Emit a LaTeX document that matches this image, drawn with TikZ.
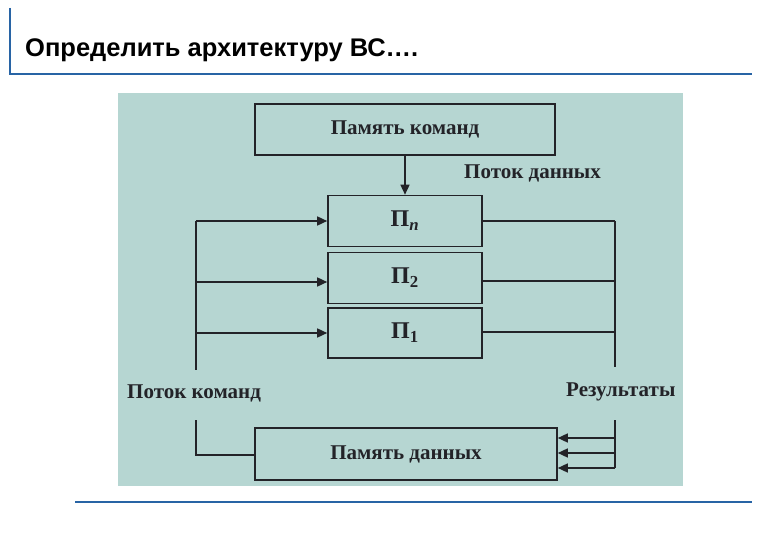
\documentclass[tikz,border=0pt]{standalone}
\usepackage{fontspec}
\setmainfont{Liberation Serif}
\newfontfamily\hdr{Liberation Sans}
\usetikzlibrary{arrows.meta}
\definecolor{bg}{RGB}{182,214,210}
\definecolor{ln}{RGB}{35,35,40}
\definecolor{blu}{RGB}{40,100,165}
\tikzset{
 box/.style={draw=ln,line width=1.6pt,inner sep=0pt},
 lbl/.style={font=\bfseries\fontsize{21}{24}\selectfont,text=ln,inner sep=0pt},
 big/.style={font=\bfseries\fontsize{24}{26}\selectfont,text=ln,inner sep=0pt},
 wire/.style={draw=ln,line width=1.5pt},
 arr/.style={wire,-{Triangle[length=10pt,width=9pt]}}
}
\begin{document}
\begin{tikzpicture}[x=1pt,y=-1pt]
\useasboundingbox (0,0) rectangle (780,540);
\fill[white] (0,0) rectangle (780,540);
\draw[blu,line width=2pt] (10,8) -- (10,74) -- (752,74);
\draw[blu,line width=1.8pt] (75,502) -- (752,502);
\node[anchor=base west,font=\hdr\bfseries\fontsize{25.5}{28}\selectfont,inner sep=0pt] (title) at (25,57) {Определить архитектуру ВС….};
\fill[bg] (118,93) rectangle (683,486);
\node[box,minimum width=300pt,minimum height=51pt,lbl] (pk) at (405,129.5) {Память команд};
\node[box,minimum width=154pt,minimum height=51pt,big] (pn) at (405,221) {П\textsubscript{\textit{n}}};
\node[box,minimum width=154pt,minimum height=51pt,big] (p2) at (405,278) {П\textsubscript{2}};
\node[box,minimum width=154pt,minimum height=50pt,big] (p1) at (405,333) {П\textsubscript{1}};
\node[box,minimum width=302pt,minimum height=52pt,lbl] (pd) at (406,454) {Память данных};
\node[lbl,anchor=base west] (ld) at (464,179) {Поток данных};
\node[lbl,anchor=base west] (lk) at (127,399) {Поток команд};
\node[lbl,anchor=base west] (lr) at (566,396) {Результаты};
\coordinate (la) at (196,221);
\coordinate (lb) at (196,370);
\coordinate (lc) at (196,420);
\coordinate (ra) at (615,221);
\coordinate (rb) at (615,367);
\coordinate (rc) at (615,420);
\coordinate (rd) at (615,468);
\draw[arr] (pk.south) -- (pn.north);
\draw[wire] (la) -- (lb);
\draw[arr] (la) -- (pn.west|-la);
\draw[arr] (196,282) -- (p2.west|-0,282);
\draw[arr] (196,333) -- (p1.west|-0,333);
\draw[wire] (lc) |- (pd.west|-0,455);
\draw[wire] (ra) -- (rb);
\draw[wire] (pn.east|-ra) -- (ra);
\draw[wire] (p2.east|-0,281) -- (615,281);
\draw[wire] (p1.east|-0,332) -- (615,332);
\draw[wire] (rc) -- (rd);
\draw[arr] (615,438) -- (pd.east|-0,438);
\draw[arr] (615,453) -- (pd.east|-0,453);
\draw[arr] (rd) -- (pd.east|-rd);
\end{tikzpicture}
\end{document}
